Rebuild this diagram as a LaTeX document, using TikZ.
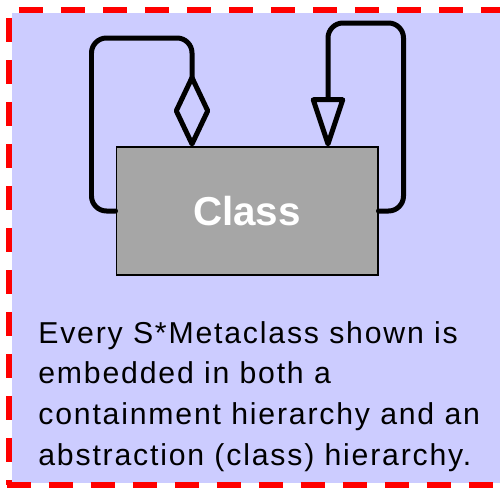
\documentclass[tikz,border=0pt]{standalone}
\usepackage{fontspec}
\setmainfont{Liberation Sans}
\usetikzlibrary{positioning, arrows.meta}
\definecolor{lavender}{HTML}{CCCCFF}
\definecolor{boxgray}{HTML}{A6A6A6}

\begin{document}
\begin{tikzpicture}[
		x=0.02cm, y=-0.02cm,
		frame/.style={draw=red, line width=0.12cm, dash pattern=on 0.48cm off 0.36cm},
		class/.style={draw, fill=boxgray, line width=0.6pt, minimum width=5.24cm, minimum height=2.56cm, text=white, font=\fontsize{23}{27}\selectfont\bfseries},
		link/.style={line width=0.1cm, rounded corners=0.3cm, line cap=round},
		contain/.style={link, -{Diamond[open, length=1.56cm, width=0.74cm, round]}},
		inherit/.style={link, -{Triangle[open, length=1.1cm, width=0.7cm, round]}},
		note/.style={anchor=north west, inner sep=0pt, align=left, font=\fontsize{17.2}{23.1}\selectfont\addfontfeature{LetterSpace=6}},
	]
	\clip (0,0) rectangle (500,490);
	\fill[white] (0,0) rectangle (500,490);
	\fill[lavender] (12,13) rectangle (500,483);

	% dashed frame, right side is cut off
	\draw[frame, dash phase=0.64cm] (9,10) -- (520,10);
	\draw[frame, dash phase=0.68cm] (9,10) -- (9,484.5);
	\draw[frame] (7,484.5) -- (520,484.5);

	\node[class] (cls) at (247,211) {Class};

	\coordinate (containTop) at (192,38);
	\coordinate (inheritTop) at (328,23);

	\draw[contain] (cls.west) -- ++(-24,0) |- (containTop) -- (containTop |- cls.north);
	\draw[inherit] (cls.east) -- ++(25,0) |- (inheritTop) -- (inheritTop |- cls.north);

	\node[note] (text) at (38,321) {Every S*Metaclass shown is\\embedded in both a\\containment hierarchy and an\\abstraction (class) hierarchy.};
\end{tikzpicture}
\end{document}
